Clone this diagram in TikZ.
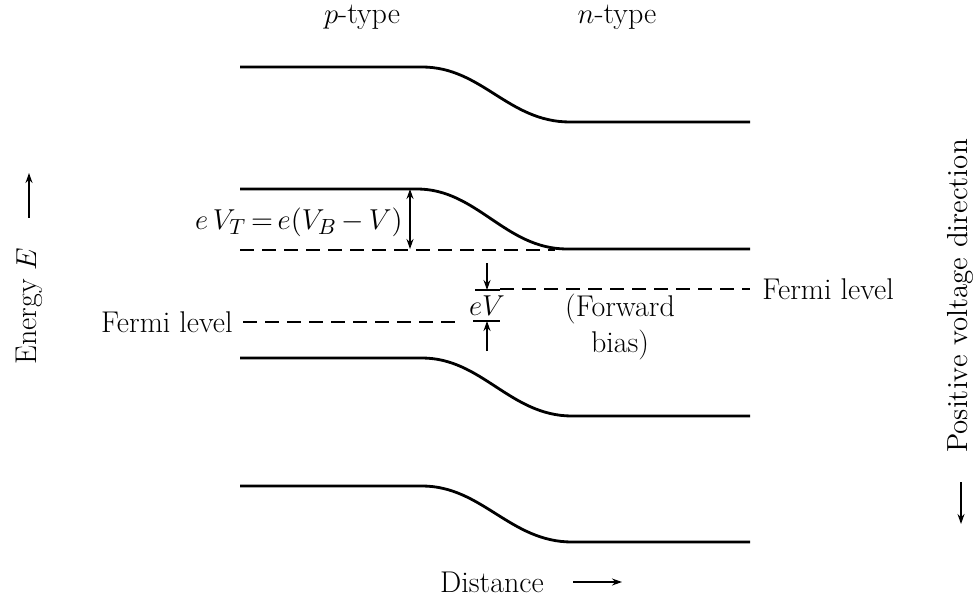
\documentclass[tikz,border=0pt]{standalone}
\usetikzlibrary{arrows.meta}
\begin{document}
\begin{tikzpicture}[x=0.5pt,y=-0.5pt,
  band/.style={line width=1.4pt},
  fermi/.style={line width=0.9pt, dash pattern=on 7pt off 4pt},
  lbl/.style={font=\fontsize{15}{18}\selectfont, inner sep=0pt},
  tipline/.style={-{Stealth[length=5pt,width=3.5pt]}, line width=0.7pt},
  tick/.style={line width=0.8pt}]
\useasboundingbox (0,0) rectangle (977,598);
\fill[white] (0,0) rectangle (977,598);

% bands
\draw[band] (240,67) -- (422,67) .. controls (482,67) and (508,122) .. (570,122) -- (750,122);
\draw[band] (240,189) -- (417,189) .. controls (477,189) and (505,249) .. (567,249) -- (750,249);
\draw[band] (240,358) -- (422,358) .. controls (482,358) and (510,416) .. (572,416) -- (750,416);
\draw[band] (240,486) -- (422,486) .. controls (482,486) and (510,542) .. (572,542) -- (750,542);

% dashed reference level
\coordinate (dA) at (240,250);
\coordinate (dB) at (555,250);
\draw[fermi] (dA) -- (dB);

% eV_T arrow
\coordinate (vtTop) at (410,189);
\coordinate (vtBot) at (410,249);
\draw[{Stealth[length=5pt,width=3.5pt]}-{Stealth[length=5pt,width=3.5pt]}, line width=0.7pt] (vtTop) -- (vtBot);
\node[lbl, anchor=east] (eVT) at (403,222) {$e\,V_T\,{=}\,e(V_B\,{-}\,V)$};

% Fermi levels
\coordinate (fR0) at (500,289);
\coordinate (fR1) at (750,289);
\draw[fermi] (fR0) -- (fR1);
\node[lbl, anchor=west] (fermiR) at (762,289) {Fermi level};

\coordinate (fL0) at (243,322);
\coordinate (fL1) at (462,322);
\node[lbl, anchor=east] (fermiL) at (233,322) {Fermi level};
\draw[fermi] (fL0) -- (fL1);

% eV marker
\coordinate (tkTa) at (475,290);
\coordinate (tkTb) at (500,290);
\coordinate (tkBa) at (473,321);
\coordinate (tkBb) at (500,321);
\draw[tick] (tkTa) -- (tkTb);
\draw[tick] (tkBa) -- (tkBb);
\coordinate (aT0) at (487,263);
\coordinate (aT1) at (487,290);
\coordinate (aB0) at (487,351);
\coordinate (aB1) at (487,321);
\draw[tipline] (aT0) -- (aT1);
\draw[tipline] (aB0) -- (aB1);
\node[lbl] (eV) at (487,306) {$eV$};

\node[lbl, align=center] (fb) at (620,327) {(Forward\\bias)};

% headings
\node[lbl] (ptype) at (362,17) {$p$-type};
\node[lbl] (ntype) at (617,17) {$n$-type};

% axes labels
\node[lbl, rotate=90] (energy) at (29,306) {Energy $E$};
\coordinate (eA0) at (29,218);
\coordinate (eA1) at (29,173);
\draw[tipline] (eA0) -- (eA1);

\node[lbl, rotate=90, font=\fontsize{14.5}{17}\selectfont] (posv) at (960,296) {Positive voltage direction};
\coordinate (pA0) at (961,482);
\coordinate (pA1) at (961,524);
\draw[tipline] (pA0) -- (pA1);

\node[lbl] (dist) at (492,582) {Distance};
\coordinate (dA0) at (573,582);
\coordinate (dA1) at (622,582);
\draw[tipline] (dA0) -- (dA1);
\end{tikzpicture}
\end{document}
